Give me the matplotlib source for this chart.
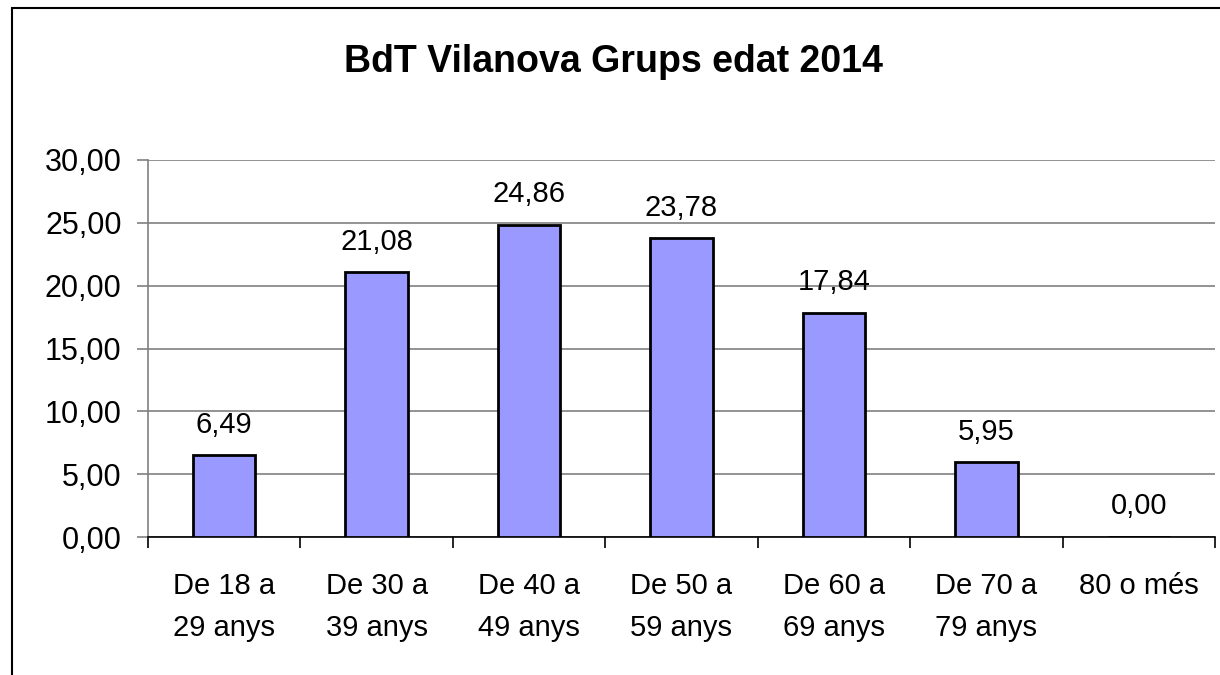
import matplotlib.pyplot as plt
from matplotlib.patches import Rectangle

plt.rcParams['font.family'] = ['Liberation Sans', 'DejaVu Sans']

categories = ['De 18 a\n29 anys', 'De 30 a\n39 anys', 'De 40 a\n49 anys', 'De 50 a\n59 anys',
              'De 60 a\n69 anys', 'De 70 a\n79 anys', '80 o més']
values = [6.49, 21.08, 24.86, 23.78, 17.84, 5.95, 0.00]
yticks = [0, 5, 10, 15, 20, 25, 30]


def fmt(v):
    return ('%.2f' % v).replace('.', ',')


fig = plt.figure(figsize=(12.2, 6.75), dpi=100)
ax = fig.add_axes([0.1213, 0.2044, 0.8746, 0.5586])

# outer chart frame
fig.patches.append(Rectangle((12/1220, -0.1), 1.2, 1 - 8/675 + 0.1, transform=fig.transFigure,
                             fill=False, edgecolor='black', linewidth=1.5))

x = range(len(values))
ax.bar(x, values, width=0.41, color='#9999FF', edgecolor='black', linewidth=2, zorder=3)

for xi, v in zip(x, values):
    ax.annotate(fmt(v), (xi, v), xytext=(0, 22), textcoords='offset points',
                ha='center', va='center', fontsize=21)

ax.set_xlim(-0.5, len(values) - 0.5)
ax.set_ylim(0, 30)
ax.set_yticks(yticks)
ax.set_yticklabels([fmt(t) for t in yticks], fontsize=22)
ax.yaxis.grid(True, color='#808080', linewidth=1.2, zorder=0)

ax.set_xticks([i + 0.5 for i in range(-1, len(values))], minor=True)
ax.set_xticks(list(x))
ax.set_xticklabels(categories, fontsize=21, linespacing=1.6)
ax.tick_params(axis='x', which='major', length=0, pad=25.5)
ax.tick_params(axis='x', which='minor', length=8, width=1.2, color='black', direction='out')
ax.tick_params(axis='y', length=8, width=1.2, color='#808080', direction='out', pad=11)

for s in ['top', 'right']:
    ax.spines[s].set_visible(False)
ax.spines['left'].set_color('#808080')
ax.spines['left'].set_linewidth(1.2)
ax.spines['bottom'].set_color('black')
ax.spines['bottom'].set_linewidth(1.2)

fig.text(0.5 + 0.003, 1 - 62/675, 'BdT Vilanova Grups edat 2014', ha='center', va='center',
         fontsize=27, fontweight='bold')

fig.savefig('out.png', dpi=100)
